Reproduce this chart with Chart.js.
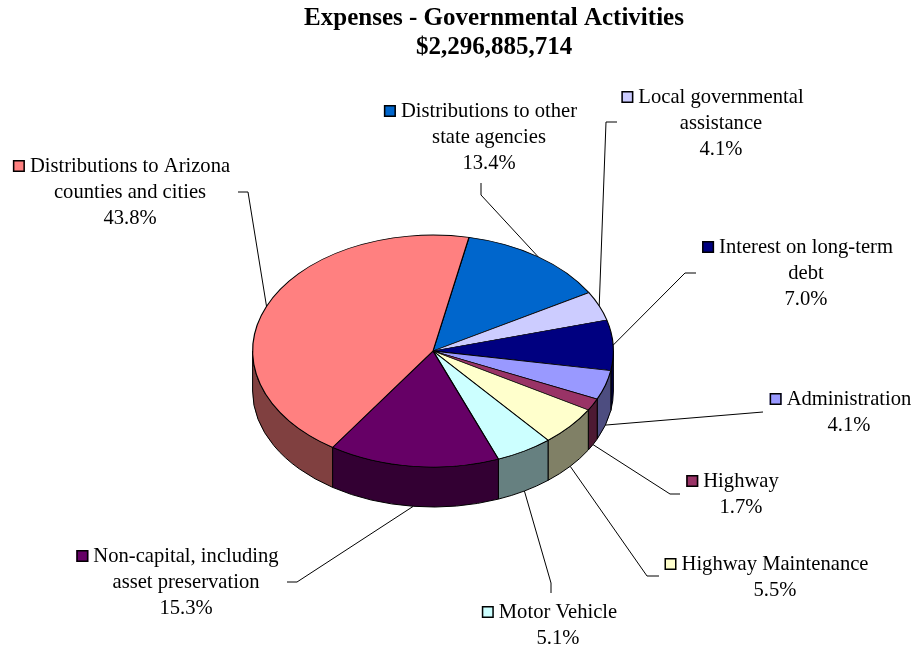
<!DOCTYPE html>
<html lang="en">
<head>
<meta charset="UTF-8">
<title>Expenses - Governmental Activities</title>
<script src="https://cdn.jsdelivr.net/npm/chart.js"></script>
<style>
  body { margin: 0; background: #fff; }
  canvas { display: block; }
</style>
</head>
<body>
<canvas id="expChart" width="914" height="650"></canvas>
<script>
// chart data
const titleLines = ['Expenses - Governmental Activities', '$2,296,885,714'];
const categories = [
  ['Distributions to other', 'state agencies'],
  ['Local governmental', 'assistance'],
  ['Interest on long-term', 'debt'],
  ['Administration'],
  ['Highway'],
  ['Highway Maintenance'],
  ['Motor Vehicle'],
  ['Non-capital, including', 'asset preservation'],
  ['Distributions to Arizona', 'counties and cities']
];
const percents = [13.4, 4.1, 7.0, 4.1, 1.7, 5.5, 5.1, 15.3, 43.8];
const colors = ['#0066CC', '#CCCCFF', '#000080', '#9999FF', '#993366', '#FFFFCC', '#CCFFFF', '#660066', '#FF8080'];

// label placement: text centre x, first baseline y, leader elbow and stub end
const labelPos = [
  { x: 489, y: 117, elbow: [481, 195], stub: [481, 183] },
  { x: 721, y: 103, elbow: [606, 122], stub: [617, 122] },
  { x: 806, y: 253, elbow: [685, 273], stub: [696, 273] },
  { x: 849, y: 405, elbow: [763, 412], stub: [763, 412] },
  { x: 741, y: 487, elbow: [670, 494], stub: [680, 494] },
  { x: 775, y: 570, elbow: [647, 576], stub: [659, 576] },
  { x: 558, y: 618, elbow: [551, 583], stub: [551, 593] },
  { x: 186, y: 562, elbow: [297, 582], stub: [287, 582] },
  { x: 130, y: 172, elbow: [248, 192], stub: [238, 192] }
];

const tilt = 0.643;   // vertical squash of the pie top
const depth = 40;     // height of the pie wall
const serif = '"Times New Roman", "Liberation Serif", serif';

function darker(hex) {
  const n = parseInt(hex.slice(1), 16);
  const r = (n >> 16) & 255, g = (n >> 8) & 255, b = n & 255;
  return `rgb(${Math.round(r / 2)}, ${Math.round(g / 2)}, ${Math.round(b / 2)})`;
}

const pie3d = {
  id: 'pie3d',
  beforeDatasetsDraw(chart) {
    const ctx = chart.ctx;
    const arcs = chart.getDatasetMeta(0).data;
    const cx = arcs[0].x, cy = arcs[0].y, r = arcs[0].outerRadius;
    const ry = r * tilt;

    // front walls (canvas angles 0..PI face the viewer)
    arcs.forEach((arc, i) => {
      for (let k = -1; k <= 2; k++) {
        const lo = Math.max(arc.startAngle, 2 * Math.PI * k);
        const hi = Math.min(arc.endAngle, 2 * Math.PI * k + Math.PI);
        if (hi <= lo) continue;
        ctx.beginPath();
        ctx.ellipse(cx, cy, r, ry, 0, lo, hi);
        ctx.lineTo(cx + r * Math.cos(hi), cy + ry * Math.sin(hi) + depth);
        ctx.ellipse(cx, cy + depth, r, ry, 0, hi, lo, true);
        ctx.closePath();
        ctx.fillStyle = darker(colors[i]);
        ctx.fill();
        ctx.lineWidth = 1;
        ctx.strokeStyle = '#000';
        ctx.stroke();
      }
    });

    // squash the top face
    ctx.save();
    ctx.translate(0, cy);
    ctx.scale(1, tilt);
    ctx.translate(0, -cy);
  },
  afterDatasetsDraw(chart) {
    chart.ctx.restore();
  },
  afterDraw(chart) {
    const ctx = chart.ctx;
    const arcs = chart.getDatasetMeta(0).data;
    const cx = arcs[0].x, cy = arcs[0].y, r = arcs[0].outerRadius;
    const ry = r * tilt;

    ctx.save();
    // title
    ctx.fillStyle = '#000';
    ctx.textAlign = 'center';
    ctx.textBaseline = 'alphabetic';
    ctx.font = 'bold 25px ' + serif;
    ctx.fillText(titleLines[0], 494, 25);
    ctx.fillText(titleLines[1], 494, 54);

    // leader lines
    ctx.strokeStyle = '#000';
    ctx.lineWidth = 1;
    arcs.forEach((arc, i) => {
      const mid = (arc.startAngle + arc.endAngle) / 2;
      const px = cx + r * Math.cos(mid);
      const py = cy + ry * Math.sin(mid) + (Math.sin(mid) > 0 ? depth : 0);
      const p = labelPos[i];
      ctx.beginPath();
      ctx.moveTo(px, py);
      ctx.lineTo(p.elbow[0], p.elbow[1]);
      ctx.lineTo(p.stub[0], p.stub[1]);
      ctx.stroke();
    });

    // data labels with legend keys
    ctx.font = '20.6px ' + serif;
    categories.forEach((lines, i) => {
      const p = labelPos[i];
      const all = lines.concat([percents[i].toFixed(1) + '%']);
      all.forEach((t, j) => ctx.fillText(t, p.x, p.y + j * 26));
      const w = ctx.measureText(lines[0]).width;
      const kx = p.x - w / 2 - 17;
      ctx.fillStyle = colors[i];
      ctx.fillRect(kx, p.y - 12, 12, 12);
      ctx.lineWidth = 1.5;
      ctx.strokeRect(kx + 0.75, p.y - 11.25, 10.5, 10.5);
      ctx.fillStyle = '#000';
    });
    ctx.restore();
  }
};

new Chart(document.getElementById('expChart'), {
  type: 'pie',
  data: {
    labels: categories,
    datasets: [{
      data: percents,
      backgroundColor: colors,
      borderColor: '#000',
      borderWidth: 1.2
    }]
  },
  options: {
    responsive: false,
    animation: false,
    events: [],
    rotation: 11.5,
    layout: { padding: { left: 252, right: 300, top: 170, bottom: 118 } },
    plugins: {
      legend: { display: false },
      title: { display: false },
      tooltip: { enabled: false }
    }
  },
  plugins: [pie3d]
});
</script>
</body>
</html>
